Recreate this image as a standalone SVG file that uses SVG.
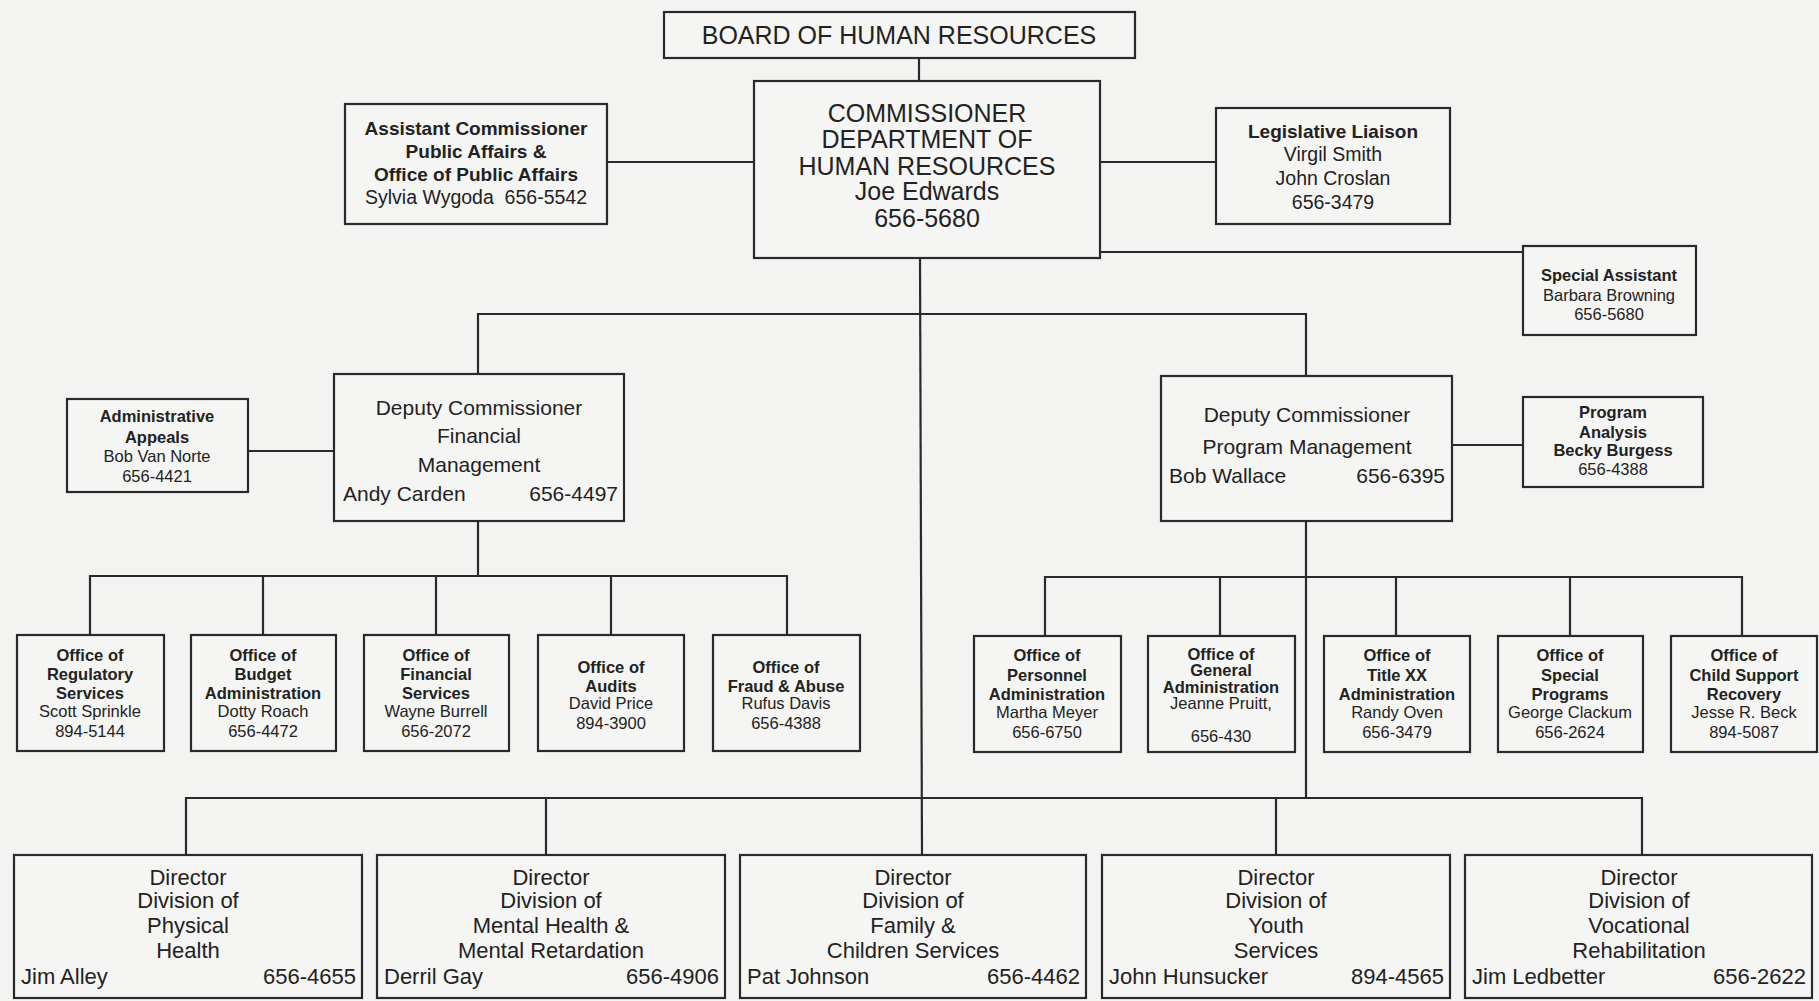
<svg xmlns="http://www.w3.org/2000/svg" width="1819" height="1001" viewBox="0 0 1819 1001">
<style>
.bg{fill:#f3f3f1}
.box{fill:#f5f5f3;stroke:#2a2a2a;stroke-width:2.2}
.ln{stroke:#2a2a2a;stroke-width:2.2;fill:none}
text{font-family:"Liberation Sans",Arial,sans-serif;fill:#222;text-anchor:middle}
.t1{font-size:25px}
.t2{font-size:25px}
.t3{font-size:19.5px}
.t3b{font-size:19px;font-weight:bold}
.t4{font-size:16.5px}
.t4b{font-size:16.5px;font-weight:bold}
.t5{font-size:16.5px}
.t5b{font-size:16.5px;font-weight:bold}
.t6{font-size:21px}
.t7{font-size:22px}
.l{text-anchor:start}
.r{text-anchor:end}
</style>
<rect class="bg" x="0" y="0" width="1819" height="1001"/>
<g id="connectors">
<line class="ln" x1="919" y1="58" x2="919" y2="81"/>
<line class="ln" x1="607" y1="162" x2="754" y2="162"/>
<line class="ln" x1="1100" y1="162" x2="1216" y2="162"/>
<line class="ln" x1="1100" y1="252" x2="1523" y2="252"/>
<line class="ln" x1="920" y1="258" x2="922" y2="855"/>
<polyline class="ln" points="478,374 478,314 1306,314 1306,376"/>
<line class="ln" x1="248" y1="451" x2="334" y2="451"/>
<line class="ln" x1="1452" y1="445" x2="1523" y2="445"/>
<line class="ln" x1="478" y1="521" x2="478" y2="576"/>
<polyline class="ln" points="90,635 90,576 787,576 787,635"/>
<line class="ln" x1="263" y1="576" x2="263" y2="635"/>
<line class="ln" x1="436" y1="576" x2="436" y2="635"/>
<line class="ln" x1="611" y1="576" x2="611" y2="635"/>
<line class="ln" x1="1306" y1="521" x2="1306" y2="798"/>
<polyline class="ln" points="1045,636 1045,577 1742,577 1742,636"/>
<line class="ln" x1="1220" y1="577" x2="1220" y2="636"/>
<line class="ln" x1="1396" y1="577" x2="1396" y2="636"/>
<line class="ln" x1="1570" y1="577" x2="1570" y2="636"/>
<polyline class="ln" points="186,855 186,798 1642,798 1642,855"/>
<line class="ln" x1="546" y1="798" x2="546" y2="855"/>
<line class="ln" x1="1276" y1="798" x2="1276" y2="855"/>
</g>
<g id="board">
<rect class="box" x="664" y="12" width="471" height="46"/>
<text class="t1" x="899" y="44">BOARD OF HUMAN RESOURCES</text>
</g>
<g id="commissioner">
<rect class="box" x="754" y="81" width="346" height="177"/>
<text class="t2" x="927" y="122">COMMISSIONER</text>
<text class="t2" x="927" y="148">DEPARTMENT OF</text>
<text class="t2" x="927" y="175">HUMAN RESOURCES</text>
<text class="t2" x="927" y="200">Joe Edwards</text>
<text class="t2" x="927" y="227">656-5680</text>
</g>
<g id="asst-commissioner">
<rect class="box" x="345" y="104" width="262" height="120"/>
<text class="t3b" x="476" y="135">Assistant Commissioner</text>
<text class="t3b" x="476" y="158">Public Affairs &amp;</text>
<text class="t3b" x="476" y="181">Office of Public Affairs</text>
<text class="t3" x="476" y="204" xml:space="preserve">Sylvia Wygoda  656-5542</text>
</g>
<g id="legislative-liaison">
<rect class="box" x="1216" y="108" width="234" height="116"/>
<text class="t3b" x="1333" y="138">Legislative Liaison</text>
<text class="t3" x="1333" y="161">Virgil Smith</text>
<text class="t3" x="1333" y="185">John Croslan</text>
<text class="t3" x="1333" y="209">656-3479</text>
</g>
<g id="special-assistant">
<rect class="box" x="1523" y="246" width="173" height="89"/>
<text class="t4b" x="1609" y="281">Special Assistant</text>
<text class="t4" x="1609" y="301">Barbara Browning</text>
<text class="t4" x="1609" y="320">656-5680</text>
</g>
<g id="deputy-financial">
<rect class="box" x="334" y="374" width="290" height="147"/>
<text class="t6" x="479" y="415">Deputy Commissioner</text>
<text class="t6" x="479" y="443">Financial</text>
<text class="t6" x="479" y="472">Management</text>
<text class="t6 l" x="343" y="501">Andy Carden</text>
<text class="t6 r" x="618" y="501">656-4497</text>
</g>
<g id="admin-appeals">
<rect class="box" x="67" y="399" width="181" height="93"/>
<text class="t4b" x="157" y="422">Administrative</text>
<text class="t4b" x="157" y="443">Appeals</text>
<text class="t4" x="157" y="462">Bob Van Norte</text>
<text class="t4" x="157" y="482">656-4421</text>
</g>
<g id="deputy-program">
<rect class="box" x="1161" y="376" width="291" height="145"/>
<text class="t6" x="1307" y="422">Deputy Commissioner</text>
<text class="t6" x="1307" y="454">Program Management</text>
<text class="t6 l" x="1169" y="483">Bob Wallace</text>
<text class="t6 r" x="1445" y="483">656-6395</text>
</g>
<g id="program-analysis">
<rect class="box" x="1523" y="397" width="180" height="90"/>
<text class="t4b" x="1613" y="418">Program</text>
<text class="t4b" x="1613" y="438">Analysis</text>
<text class="t4b" x="1613" y="456">Becky Burgess</text>
<text class="t4" x="1613" y="475">656-4388</text>
</g>
<g id="office-regulatory">
<rect class="box" x="17" y="635" width="147" height="116"/>
<text class="t5b" x="90" y="661">Office of</text>
<text class="t5b" x="90" y="680">Regulatory</text>
<text class="t5b" x="90" y="699">Services</text>
<text class="t5" x="90" y="717">Scott Sprinkle</text>
<text class="t5" x="90" y="737">894-5144</text>
</g>
<g id="office-budget">
<rect class="box" x="191" y="635" width="145" height="116"/>
<text class="t5b" x="263" y="661">Office of</text>
<text class="t5b" x="263" y="680">Budget</text>
<text class="t5b" x="263" y="699">Administration</text>
<text class="t5" x="263" y="717">Dotty Roach</text>
<text class="t5" x="263" y="737">656-4472</text>
</g>
<g id="office-financial">
<rect class="box" x="364" y="635" width="145" height="116"/>
<text class="t5b" x="436" y="661">Office of</text>
<text class="t5b" x="436" y="680">Financial</text>
<text class="t5b" x="436" y="699">Services</text>
<text class="t5" x="436" y="717">Wayne Burrell</text>
<text class="t5" x="436" y="737">656-2072</text>
</g>
<g id="office-audits">
<rect class="box" x="538" y="635" width="146" height="116"/>
<text class="t5b" x="611" y="673">Office of</text>
<text class="t5b" x="611" y="692">Audits</text>
<text class="t5" x="611" y="709">David Price</text>
<text class="t5" x="611" y="729">894-3900</text>
</g>
<g id="office-fraud">
<rect class="box" x="713" y="635" width="147" height="116"/>
<text class="t5b" x="786" y="673">Office of</text>
<text class="t5b" x="786" y="692">Fraud &amp; Abuse</text>
<text class="t5" x="786" y="709">Rufus Davis</text>
<text class="t5" x="786" y="729">656-4388</text>
</g>
<g id="office-personnel">
<rect class="box" x="974" y="636" width="147" height="116"/>
<text class="t5b" x="1047" y="661">Office of</text>
<text class="t5b" x="1047" y="681">Personnel</text>
<text class="t5b" x="1047" y="700">Administration</text>
<text class="t5" x="1047" y="718">Martha Meyer</text>
<text class="t5" x="1047" y="738">656-6750</text>
</g>
<g id="office-general">
<rect class="box" x="1148" y="636" width="147" height="116"/>
<text class="t5b" x="1221" y="660">Office of</text>
<text class="t5b" x="1221" y="676">General</text>
<text class="t5b" x="1221" y="693">Administration</text>
<text class="t5" x="1221" y="709">Jeanne Pruitt,</text>
<text class="t5" x="1221" y="742">656-430</text>
</g>
<g id="office-titlexx">
<rect class="box" x="1324" y="636" width="146" height="116"/>
<text class="t5b" x="1397" y="661">Office of</text>
<text class="t5b" x="1397" y="681">Title XX</text>
<text class="t5b" x="1397" y="700">Administration</text>
<text class="t5" x="1397" y="718">Randy Oven</text>
<text class="t5" x="1397" y="738">656-3479</text>
</g>
<g id="office-special">
<rect class="box" x="1498" y="636" width="145" height="116"/>
<text class="t5b" x="1570" y="661">Office of</text>
<text class="t5b" x="1570" y="681">Special</text>
<text class="t5b" x="1570" y="700">Programs</text>
<text class="t5" x="1570" y="718">George Clackum</text>
<text class="t5" x="1570" y="738">656-2624</text>
</g>
<g id="office-child-support">
<rect class="box" x="1671" y="636" width="146" height="116"/>
<text class="t5b" x="1744" y="661">Office of</text>
<text class="t5b" x="1744" y="681">Child Support</text>
<text class="t5b" x="1744" y="700">Recovery</text>
<text class="t5" x="1744" y="718">Jesse R. Beck</text>
<text class="t5" x="1744" y="738">894-5087</text>
</g>
<g id="div-physical-health">
<rect class="box" x="14" y="855" width="348" height="143"/>
<text class="t7" x="188" y="885">Director</text>
<text class="t7" x="188" y="908">Division of</text>
<text class="t7" x="188" y="933">Physical</text>
<text class="t7" x="188" y="958">Health</text>
<text class="t7 l" x="21" y="984">Jim Alley</text>
<text class="t7 r" x="356" y="984">656-4655</text>
</g>
<g id="div-mental-health">
<rect class="box" x="377" y="855" width="348" height="143"/>
<text class="t7" x="551" y="885">Director</text>
<text class="t7" x="551" y="908">Division of</text>
<text class="t7" x="551" y="933">Mental Health &amp;</text>
<text class="t7" x="551" y="958">Mental Retardation</text>
<text class="t7 l" x="384" y="984">Derril Gay</text>
<text class="t7 r" x="719" y="984">656-4906</text>
</g>
<g id="div-family-children">
<rect class="box" x="740" y="855" width="346" height="143"/>
<text class="t7" x="913" y="885">Director</text>
<text class="t7" x="913" y="908">Division of</text>
<text class="t7" x="913" y="933">Family &amp;</text>
<text class="t7" x="913" y="958">Children Services</text>
<text class="t7 l" x="747" y="984">Pat Johnson</text>
<text class="t7 r" x="1080" y="984">656-4462</text>
</g>
<g id="div-youth">
<rect class="box" x="1102" y="855" width="348" height="143"/>
<text class="t7" x="1276" y="885">Director</text>
<text class="t7" x="1276" y="908">Division of</text>
<text class="t7" x="1276" y="933">Youth</text>
<text class="t7" x="1276" y="958">Services</text>
<text class="t7 l" x="1109" y="984">John Hunsucker</text>
<text class="t7 r" x="1444" y="984">894-4565</text>
</g>
<g id="div-vocational">
<rect class="box" x="1465" y="855" width="347" height="143"/>
<text class="t7" x="1639" y="885">Director</text>
<text class="t7" x="1639" y="908">Division of</text>
<text class="t7" x="1639" y="933">Vocational</text>
<text class="t7" x="1639" y="958">Rehabilitation</text>
<text class="t7 l" x="1472" y="984">Jim Ledbetter</text>
<text class="t7 r" x="1806" y="984">656-2622</text>
</g>
</svg>
